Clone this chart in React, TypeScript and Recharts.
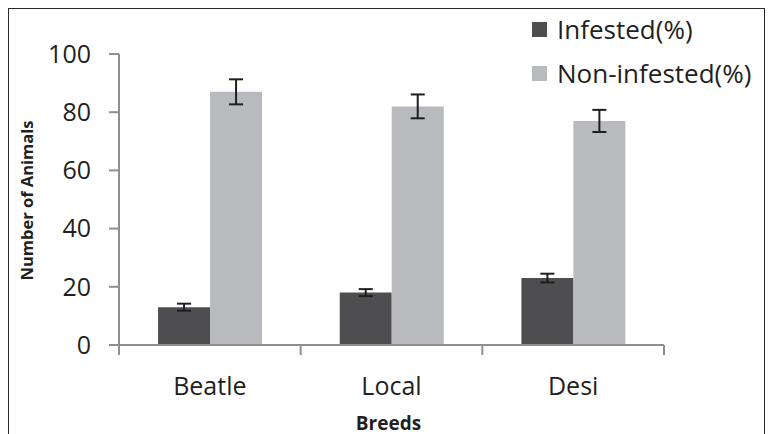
import React from 'react';
import { BarChart, Bar, XAxis, YAxis, ErrorBar, Legend } from 'recharts';

const breeds = ['Beatle', 'Local', 'Desi'];
const infested = [13, 18, 23];
const infestedErr = [1.2, 1.2, 1.5];
const nonInfested = [87, 82, 77];
const nonInfestedErr = [4.3, 4.1, 3.8];
const yTicks = [0, 20, 40, 60, 80, 100];
const seriesNames = ['Infested(%)', 'Non-infested(%)'];

const COLORS = ['#4e4e50', '#b9babd'];
const AXIS = '#8f8f8f';
const TEXT = '#231f20';
const FONT = '"Open Sans", "Noto Sans", sans-serif';

const data = breeds.map((b, i) => ({
  breed: b,
  infested: infested[i],
  infestedErr: infestedErr[i],
  non: nonInfested[i],
  nonErr: nonInfestedErr[i],
}));

const XTick = (props: any) => {
  const { x, y, payload, index, visibleTicksCount } = props;
  const half = payload && typeof payload.offset === 'number' ? payload.offset : 90.8;
  const axisY = y - 10;
  const last = index === (visibleTicksCount ?? 3) - 1;
  return (
    <g>
      <line x1={x - half} x2={x - half} y1={axisY} y2={axisY + 10} stroke={AXIS} strokeWidth={2} />
      {last && <line x1={x + half} x2={x + half} y1={axisY} y2={axisY + 10} stroke={AXIS} strokeWidth={2} />}
      <text x={x} y={axisY + 50} textAnchor="middle" fill={TEXT} fontSize={25} fontFamily={FONT}>
        {payload.value}
      </text>
    </g>
  );
};

const LegendContent = () => (
  <div style={{ fontFamily: FONT, fontSize: 26, color: TEXT }}>
    {seriesNames.map((n, i) => (
      <div key={n} style={{ display: 'flex', alignItems: 'center', height: 44 }}>
        <span style={{ display: 'inline-block', width: 15, height: 15, background: COLORS[i], marginRight: 10 }} />
        <span>{n}</span>
      </div>
    ))}
  </div>
);

export default function App() {
  return (
    <div style={{ position: 'absolute', left: 0, top: 0, width: 771, height: 434, overflow: 'hidden', background: '#fff' }}>
      <div
        style={{
          position: 'absolute',
          left: 8,
          top: 7.5,
          width: 757,
          height: 460,
          border: '1.5px solid #2a2a2a',
          boxSizing: 'border-box',
        }}
      />
      <div style={{ position: 'absolute', left: 0, top: 0 }}>
        <BarChart
          width={771}
          height={434}
          data={data}
          margin={{ top: 54, right: 107, bottom: 59, left: 0 }}
          barCategoryGap="21.5%"
          barGap={0}
        >
          <XAxis
            dataKey="breed"
            height={30}
            axisLine={{ stroke: AXIS, strokeWidth: 2 }}
            tickLine={false}
            tickSize={10}
            tickMargin={0}
            tick={<XTick />}
            interval={0}
            label={{
              content: (p: any) => {
                const vb = p.viewBox || { x: 119, y: 345, width: 545 };
                return (
                  <text
                    x={vb.x + vb.width / 2 - 3}
                    y={vb.y + 85}
                    textAnchor="middle"
                    fill={TEXT}
                    fontSize={19}
                    fontWeight="bold"
                    fontFamily={FONT}
                  >
                    Breeds
                  </text>
                );
              },
            }}
          />
          <YAxis
            width={119}
            domain={[0, 100]}
            ticks={yTicks}
            interval={0}
            axisLine={{ stroke: AXIS, strokeWidth: 2 }}
            tickLine={{ stroke: AXIS, strokeWidth: 2 }}
            tickSize={10}
            tickMargin={18}
            tick={{ fill: TEXT, fontSize: 25, fontFamily: FONT }}
            label={{
              content: (p: any) => {
                const vb = p.viewBox || { x: 0, y: 54, height: 291 };
                const cx = 26;
                const cy = vb.y + vb.height / 2 + 1;
                return (
                  <text
                    x={cx}
                    y={cy}
                    transform={`rotate(-90, ${cx}, ${cy})`}
                    textAnchor="middle"
                    dominantBaseline="central"
                    fill={TEXT}
                    fontSize={16.5}
                    fontWeight="bold"
                    fontFamily={FONT}
                  >
                    Number of Animals
                  </text>
                );
              },
            }}
          />
          <Legend
            verticalAlign="middle"
            align="center"
            layout="vertical"
            content={<LegendContent />}
            wrapperStyle={{ position: 'absolute', left: 532, top: 7, width: 'auto', margin: 0 }}
          />
          <Bar dataKey="infested" name={seriesNames[0]} fill={COLORS[0]} isAnimationActive={false}>
            <ErrorBar dataKey="infestedErr" width={7} stroke="#1e1e1e" strokeWidth={2} direction="y" />
          </Bar>
          <Bar dataKey="non" name={seriesNames[1]} fill={COLORS[1]} isAnimationActive={false}>
            <ErrorBar dataKey="nonErr" width={7} stroke="#1e1e1e" strokeWidth={2} direction="y" />
          </Bar>
        </BarChart>
      </div>
    </div>
  );
}
